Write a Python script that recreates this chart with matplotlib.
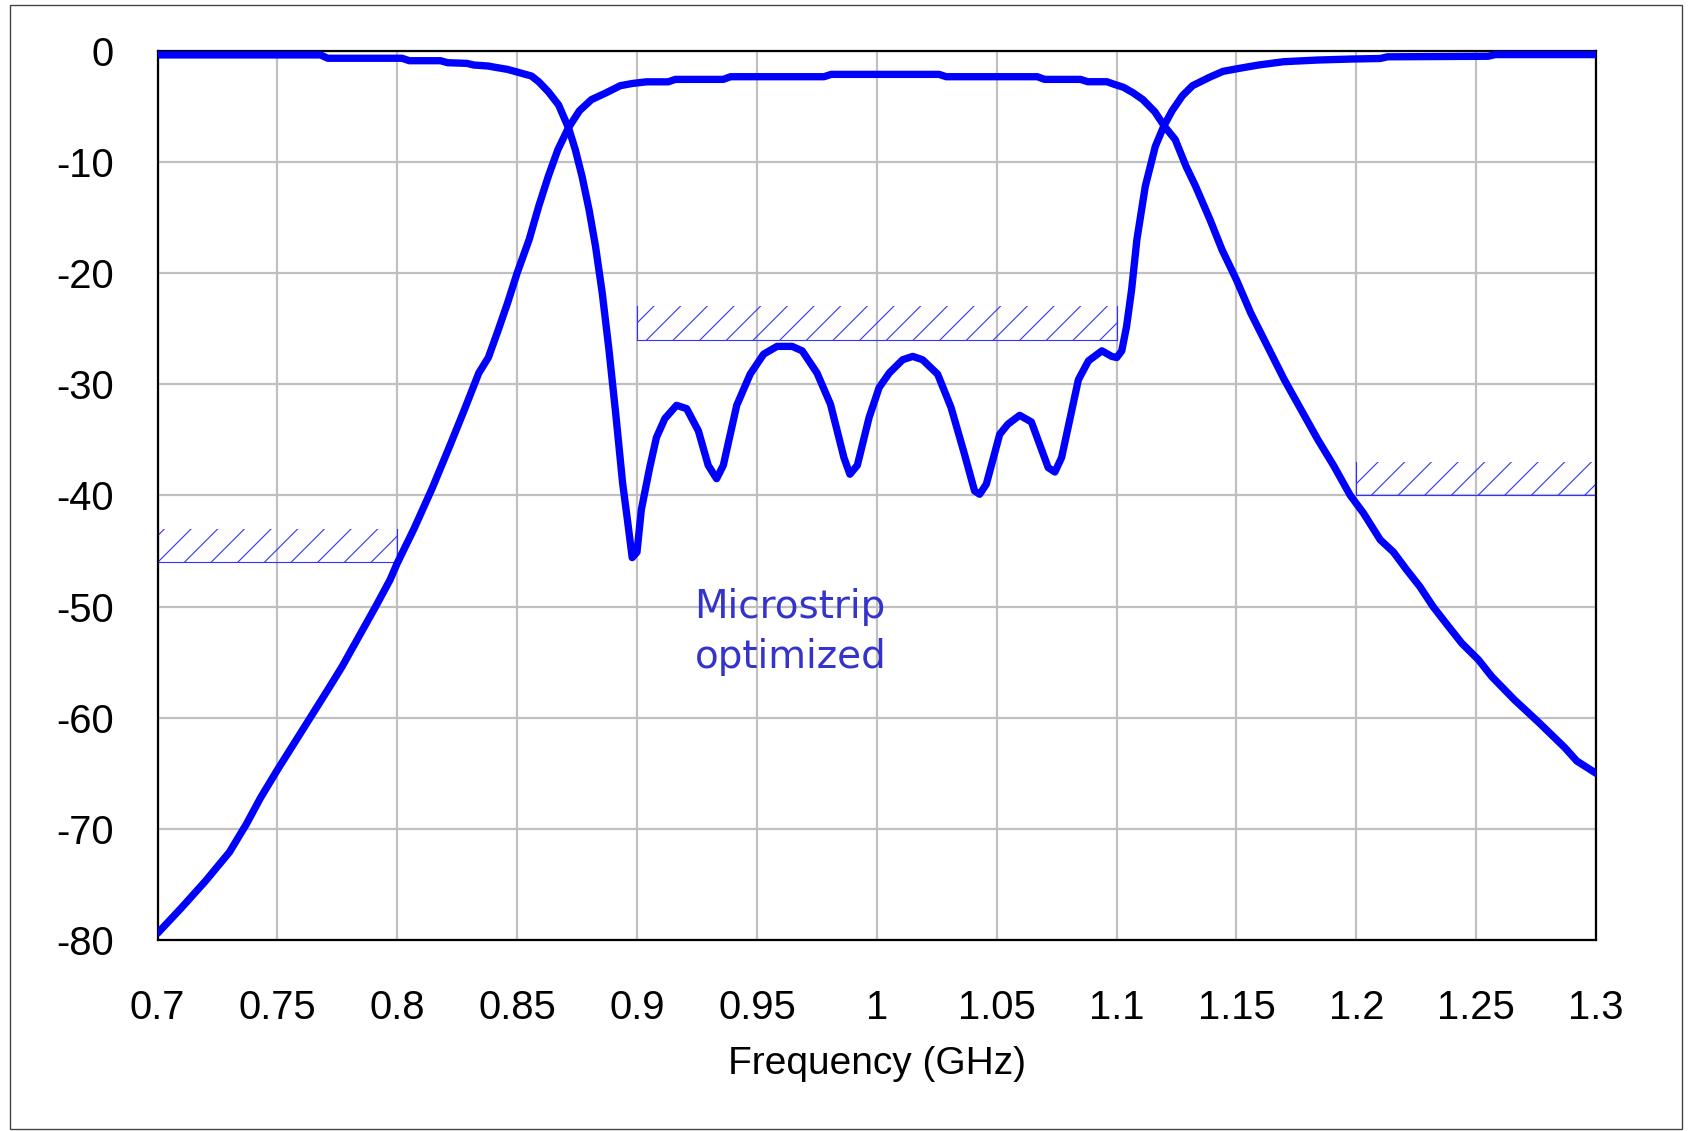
import matplotlib
matplotlib.use("Agg")
import matplotlib.pyplot as plt
from matplotlib.patches import Rectangle
import numpy as np

# ---- data ----
s21_freq = [0.700, 0.710, 0.720, 0.730, 0.737, 0.743, 0.750, 0.757, 0.764, 0.771,
            0.777, 0.784, 0.791, 0.797, 0.800, 0.807, 0.8145, 0.822, 0.828, 0.834,
            0.838, 0.842, 0.846, 0.850, 0.855, 0.859, 0.863, 0.867, 0.8715, 0.876,
            0.881, 0.887, 0.893, 0.898, 0.904, 0.913, 0.916, 0.936, 0.939, 0.978,
            0.981, 1.026, 1.029, 1.067, 1.070, 1.085, 1.088, 1.096, 1.099, 1.103,
            1.107, 1.111, 1.116, 1.120, 1.1245, 1.129, 1.133, 1.139, 1.144, 1.150,
            1.156, 1.163, 1.170, 1.177, 1.184, 1.1905, 1.1975, 1.203, 1.210, 1.2155,
            1.221, 1.2265, 1.232, 1.2385, 1.244, 1.251, 1.2565, 1.266, 1.276, 1.287,
            1.292, 1.300]
s21_db = [-79.4, -77.1, -74.7, -72.1, -69.6, -67.2, -64.7, -62.3, -59.9, -57.5,
          -55.4, -52.7, -50.0, -47.6, -46.1, -43.0, -39.4, -35.5, -32.3, -29.0,
          -27.6, -25.2, -22.7, -20.0, -17.0, -14.0, -11.3, -8.9, -6.9, -5.4,
          -4.4, -3.8, -3.15, -2.95, -2.8, -2.8, -2.58, -2.58, -2.34, -2.34,
          -2.13, -2.13, -2.34, -2.34, -2.58, -2.58, -2.79, -2.79, -3.02, -3.3,
          -3.8, -4.4, -5.5, -6.8, -8.0, -10.4, -12.2, -15.2, -17.9, -20.6,
          -23.6, -26.6, -29.6, -32.3, -35.0, -37.3, -40.0, -41.6, -44.0, -45.1,
          -46.7, -48.2, -50.0, -51.8, -53.3, -54.8, -56.3, -58.4, -60.4, -62.7,
          -63.9, -65.0]

s11_freq = [0.700, 0.768, 0.771, 0.802, 0.805, 0.818, 0.821, 0.829, 0.832, 0.838,
            0.841, 0.846, 0.852, 0.856, 0.859, 0.863, 0.8673, 0.8715, 0.8743, 0.8771,
            0.880, 0.8827, 0.8855, 0.8883, 0.8911, 0.894, 0.896, 0.898, 0.900, 0.9018,
            0.9053, 0.9081, 0.9116, 0.9165, 0.9207, 0.9256, 0.9297, 0.9332, 0.936, 0.9416,
            0.9472, 0.9528, 0.9584, 0.9647, 0.9689, 0.9751, 0.9807, 0.9863, 0.9888, 0.9919,
            0.9968, 1.001, 1.0052, 1.0108, 1.015, 1.0191, 1.0254, 1.031, 1.0366, 1.0408,
            1.0429, 1.0457, 1.0513, 1.0547, 1.0596, 1.0645, 1.0715, 1.0743, 1.0771, 1.0841,
            1.0883, 1.0939, 1.098, 1.1001, 1.1022, 1.1042, 1.1063, 1.1085, 1.112, 1.1162,
            1.1197, 1.1232, 1.1275, 1.1317, 1.1387, 1.1444, 1.1514, 1.1592, 1.1697, 1.1838,
            1.1979, 1.210, 1.213, 1.255, 1.258, 1.300]
s11_db = [-0.38, -0.38, -0.68, -0.68, -0.9, -0.9, -1.08, -1.14, -1.29, -1.38,
          -1.5, -1.68, -2.04, -2.28, -2.79, -3.69, -4.88, -6.98, -8.93, -11.33,
          -14.3, -17.6, -21.8, -26.9, -32.6, -38.9, -42.2, -45.6, -45.1, -41.3,
          -37.5, -34.8, -33.1, -31.9, -32.2, -34.2, -37.3, -38.5, -37.3, -31.9,
          -29.1, -27.3, -26.6, -26.6, -27.0, -29.0, -31.8, -36.6, -38.1, -37.3,
          -33.0, -30.3, -29.0, -27.8, -27.5, -27.8, -29.1, -32.1, -36.3, -39.6,
          -39.9, -39.0, -34.5, -33.6, -32.8, -33.4, -37.5, -37.9, -36.6, -29.6,
          -27.9, -27.0, -27.5, -27.6, -27.0, -24.8, -21.5, -17.0, -12.2, -8.6,
          -6.8, -5.4, -4.05, -3.15, -2.4, -1.86, -1.58, -1.29, -0.99, -0.84,
          -0.75, -0.7, -0.55, -0.5, -0.35, -0.35]

mask_start = [0.7, 0.9, 1.2]
mask_stop = [0.8, 1.1, 1.3]
mask_level = [-46, -26, -40]

x_ticks = [0.7, 0.75, 0.8, 0.85, 0.9, 0.95, 1.0, 1.05, 1.1, 1.15, 1.2, 1.25, 1.3]
x_tick_labels = ["0.7", "0.75", "0.8", "0.85", "0.9", "0.95", "1", "1.05", "1.1",
                 "1.15", "1.2", "1.25", "1.3"]
y_ticks = [0, -10, -20, -30, -40, -50, -60, -70, -80]
x_label = "Frequency (GHz)"
annotation = "Microstrip\noptimized"

# ---- style ----
HATCH_DEPTH = 3
CURVE_COLOR = "#0000ff"
MASK_COLOR = "#3333ff"
TEXT_COLOR = "#3434cc"
DPI = 160
W, H = 1692, 1131

plt.rcParams["hatch.linewidth"] = 0.5
plt.rcParams["font.family"] = ["Liberation Sans", "DejaVu Sans"]

fig = plt.figure(figsize=(W / DPI, H / DPI), dpi=DPI)
ax = fig.add_axes([157.5 / W, 1 - 940 / H, (1596 - 157.5) / W, (940 - 50.7) / H])

ax.set_xlim(0.7, 1.3)
ax.set_ylim(-80, 0)
ax.set_xticks(x_ticks)
ax.set_xticklabels(x_tick_labels)
ax.set_yticks(y_ticks)
ax.set_yticklabels([str(v) for v in y_ticks])
ax.tick_params(axis="both", length=0, labelsize=18, colors="black")
ax.tick_params(axis="y", pad=19.5)
ax.tick_params(axis="x", pad=22)
ax.grid(True, color="#c0c0c0", linewidth=1.0)
ax.set_axisbelow(True)
for sp in ax.spines.values():
    sp.set_color("black")
    sp.set_linewidth(1.0)

# masks
for a, b, lv in zip(mask_start, mask_stop, mask_level):
    ax.fill_between([a, b], [lv, lv], [lv + HATCH_DEPTH, lv + HATCH_DEPTH],
                    facecolor="none", edgecolor=MASK_COLOR, hatch="//",
                    linewidth=0, zorder=2)
    ax.plot([a, b], [lv, lv], color=MASK_COLOR, linewidth=0.5, zorder=2)
    ax.plot([a, a], [lv, lv + HATCH_DEPTH], color=MASK_COLOR, linewidth=0.5, zorder=2)
    ax.plot([b, b], [lv, lv + HATCH_DEPTH], color=MASK_COLOR, linewidth=0.5, zorder=2)

ax.plot(s21_freq, s21_db, color=CURVE_COLOR, linewidth=3.3,
        solid_joinstyle="round", solid_capstyle="round", zorder=3)
ax.plot(s11_freq, s11_db, color=CURVE_COLOR, linewidth=3.3,
        solid_joinstyle="round", solid_capstyle="round", zorder=3)

ax.text(0.924, -48.3, annotation, color=TEXT_COLOR, fontsize=17.5,
        family=["DejaVu Sans"], ha="left", va="top", linespacing=1.4, zorder=4)

ax.set_xlabel(x_label, fontsize=17.5, labelpad=8.5)

fig.add_artist(Rectangle((10 / W, 1 - 1129 / H), 1672 / W, 1124 / H,
                         transform=fig.transFigure, fill=False,
                         edgecolor="#404040", linewidth=0.6))

fig.savefig("out.png", dpi=DPI)
